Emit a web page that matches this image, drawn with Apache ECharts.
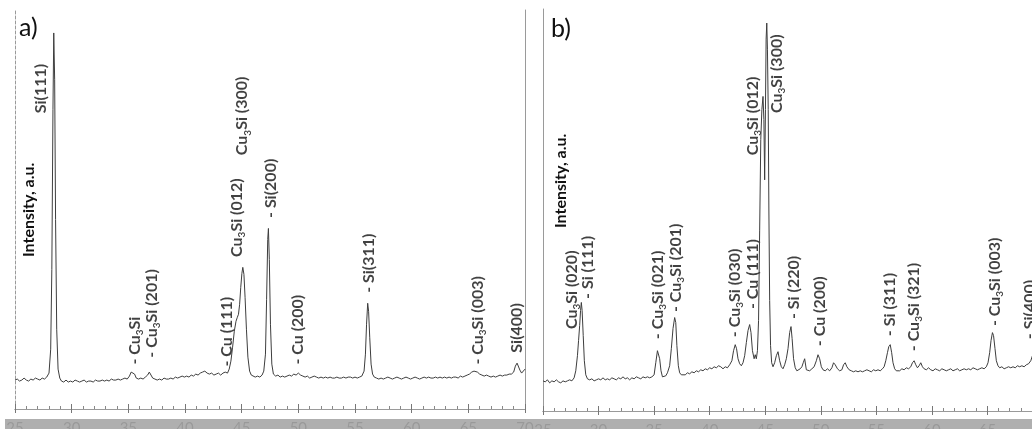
<!DOCTYPE html>
<html lang="en">
<head>
  <meta charset="UTF-8">
  <script src="https://cdn.jsdelivr.net/npm/echarts/dist/echarts.min.js"></script>
  <style>
    html, body { margin: 0; padding: 0; background: #ffffff; overflow: hidden; }
    #main { width: 1032px; height: 429px; }
  </style>
</head>
<body>
  <div id="main"></div>
  <script>
    // 2-theta axis (degrees)
    var xMin = 25, xMax = 70, xStep = 5;
    var yMax = 400;

    // panel a) pattern: [2theta, intensity a.u.]
    var patternA = [
      [25.0,29],[25.2,30],[25.4,28],[25.6,29],[25.8,31],[26.0,29],[26.2,28],[26.4,30],[26.6,29],[26.8,31],
      [27.0,30],[27.2,29],[27.4,31],[27.6,30],[27.8,32],[28.0,36],[28.15,60],[28.25,140],[28.35,300],[28.42,377],
      [28.5,330],[28.58,190],[28.68,80],[28.8,40],[28.95,31],[29.1,28],[29.3,27],[29.5,29],[29.7,27],[29.9,28],
      [30.1,27],[30.3,29],[30.5,28],[30.7,27],[30.9,28],[31.1,29],[31.3,27],[31.5,28],[31.7,28],[31.9,27],
      [32.1,29],[32.3,28],[32.5,28],[32.7,29],[32.9,28],[33.1,29],[33.3,28],[33.5,30],[33.7,29],[33.9,29],
      [34.1,30],[34.3,29],[34.5,30],[34.7,31],[34.9,30],[35.1,33],[35.25,37],[35.4,39],[35.55,35],[35.7,31],
      [35.9,30],[36.1,31],[36.3,30],[36.5,32],[36.7,34],[36.85,37],[37.0,35],[37.15,31],[37.35,30],[37.55,29],
      [37.75,30],[37.95,29],[38.15,31],[38.35,30],[38.55,30],[38.75,31],[38.95,30],[39.15,32],[39.35,31],[39.55,32],
      [39.75,33],[39.95,32],[40.15,33],[40.35,32],[40.55,34],[40.75,33],[40.95,35],[41.15,34],[41.35,36],[41.55,37],
      [41.75,38],[41.95,36],[42.15,35],[42.35,36],[42.55,34],[42.75,35],[42.95,36],[43.15,34],[43.35,36],[43.55,37],
      [43.75,36],[43.9,40],[44.05,48],[44.2,62],[44.35,78],[44.5,88],[44.62,92],[44.72,95],[44.82,105],[44.92,122],
      [45.02,136],[45.1,142],[45.2,135],[45.3,112],[45.42,80],[45.55,52],[45.7,38],[45.85,34],[46.0,33],[46.2,32],
      [46.4,33],[46.6,32],[46.8,34],[46.95,38],[47.1,55],[47.2,110],[47.3,170],[47.36,181],[47.44,150],[47.54,85],
      [47.66,45],[47.8,35],[48.0,33],[48.2,34],[48.4,32],[48.6,33],[48.8,32],[49.0,33],[49.2,34],[49.4,33],
      [49.6,35],[49.8,34],[50.0,36],[50.2,34],[50.4,33],[50.6,32],[50.8,33],[51.0,31],[51.2,32],[51.4,33],
      [51.6,32],[51.8,31],[52.0,32],[52.2,31],[52.4,32],[52.6,31],[52.8,32],[53.0,31],[53.2,31],[53.4,32],
      [53.6,31],[53.8,31],[54.0,32],[54.2,31],[54.4,32],[54.6,32],[54.8,31],[55.0,32],[55.2,31],[55.4,32],
      [55.6,33],[55.8,38],[55.92,55],[56.02,85],[56.12,106],[56.2,98],[56.3,72],[56.42,45],[56.55,35],[56.7,32],
      [56.9,31],[57.1,30],[57.3,31],[57.5,30],[57.7,31],[57.9,32],[58.1,31],[58.3,30],[58.5,31],[58.7,32],
      [58.9,31],[59.1,30],[59.3,31],[59.5,32],[59.7,31],[59.9,30],[60.1,31],[60.3,32],[60.5,31],[60.7,30],
      [60.9,31],[61.1,32],[61.3,31],[61.5,32],[61.7,31],[61.9,31],[62.1,32],[62.3,31],[62.5,32],[62.7,31],
      [62.9,32],[63.1,31],[63.3,32],[63.5,31],[63.7,32],[63.9,32],[64.1,31],[64.3,33],[64.5,32],[64.7,33],
      [64.9,34],[65.1,35],[65.3,37],[65.5,38],[65.65,39],[65.8,37],[66.0,35],[66.2,34],[66.4,33],[66.6,34],
      [66.8,33],[67.0,32],[67.2,33],[67.4,32],[67.6,33],[67.8,34],[68.0,33],[68.2,34],[68.4,34],[68.6,35],
      [68.8,35],[69.0,37],[69.15,43],[69.3,46],[69.42,44],[69.55,39],[69.7,36],[69.85,37],[70.0,40]
    ];

    // panel b) pattern
    var patternB = [
      [25.0,30],[25.2,29],[25.4,31],[25.6,28],[25.8,30],[26.0,29],[26.2,31],[26.4,29],[26.6,28],[26.8,30],
      [27.0,29],[27.2,30],[27.4,31],[27.6,30],[27.8,33],[27.95,40],[28.1,55],[28.2,70],[28.3,85],[28.38,100],
      [28.45,108],[28.52,100],[28.62,75],[28.72,50],[28.85,36],[29.0,32],[29.2,31],[29.4,32],[29.6,30],[29.8,31],
      [30.0,32],[30.2,31],[30.4,33],[30.6,31],[30.8,32],[31.0,31],[31.2,33],[31.4,32],[31.6,31],[31.8,33],
      [32.0,32],[32.2,34],[32.4,32],[32.6,33],[32.8,31],[33.0,33],[33.2,32],[33.4,34],[33.6,33],[33.8,32],
      [34.0,34],[34.2,33],[34.4,34],[34.6,33],[34.8,34],[35.0,36],[35.15,48],[35.3,60],[35.4,61],[35.5,52],
      [35.62,40],[35.75,34],[35.9,33],[36.05,35],[36.2,38],[36.4,45],[36.55,62],[36.7,82],[36.85,93],[36.95,88],
      [37.05,65],[37.18,45],[37.3,38],[37.45,36],[37.6,37],[37.8,36],[38.0,38],[38.2,37],[38.4,39],[38.6,38],
      [38.8,40],[39.0,39],[39.2,41],[39.4,40],[39.6,42],[39.8,41],[40.0,43],[40.2,42],[40.4,44],[40.6,43],
      [40.8,45],[41.0,44],[41.2,42],[41.4,44],[41.6,43],[41.8,46],[42.0,50],[42.15,60],[42.3,66],[42.42,62],
      [42.55,52],[42.7,47],[42.85,45],[43.0,48],[43.15,55],[43.3,68],[43.45,80],[43.6,86],[43.72,78],[43.85,60],
      [44.0,52],[44.1,56],[44.2,52],[44.3,60],[44.4,90],[44.5,180],[44.6,270],[44.7,300],[44.8,313],[44.88,290],
      [44.95,230],[45.02,300],[45.08,370],[45.14,386],[45.2,360],[45.27,300],[45.33,200],[45.4,110],[45.48,65],[45.58,48],
      [45.7,44],[45.85,48],[46.0,55],[46.15,59],[46.3,50],[46.45,44],[46.6,42],[46.75,46],[46.9,52],[47.05,62],
      [47.2,78],[47.32,84],[47.42,72],[47.55,52],[47.7,43],[47.85,40],[48.0,41],[48.15,42],[48.3,44],[48.42,48],
      [48.55,52],[48.7,41],[48.85,41],[49.0,40],[49.2,42],[49.4,44],[49.6,50],[49.75,56],[49.9,52],[50.05,44],
      [50.2,41],[50.4,40],[50.6,42],[50.8,40],[51.0,43],[51.15,48],[51.3,46],[51.5,42],[51.7,40],[51.9,41],
      [52.05,46],[52.2,48],[52.35,44],[52.55,41],[52.75,40],[52.95,39],[53.15,40],[53.35,39],[53.55,40],[53.75,39],
      [53.95,40],[54.15,41],[54.35,40],[54.55,39],[54.75,41],[54.95,40],[55.15,41],[55.35,40],[55.55,42],[55.7,44],
      [55.85,50],[56.0,58],[56.12,64],[56.25,66],[56.38,58],[56.5,48],[56.65,42],[56.8,40],[56.95,41],[57.1,40],
      [57.3,42],[57.5,41],[57.7,43],[57.9,42],[58.1,44],[58.25,48],[58.4,50],[58.55,46],[58.7,43],[58.85,45],
      [59.0,48],[59.15,44],[59.3,42],[59.5,41],[59.7,43],[59.9,41],[60.1,40],[60.3,42],[60.5,41],[60.7,40],
      [60.9,42],[61.1,41],[61.3,40],[61.5,41],[61.7,42],[61.9,40],[62.1,41],[62.3,42],[62.5,40],[62.7,41],
      [62.9,42],[63.1,41],[63.3,42],[63.5,41],[63.7,43],[63.9,42],[64.1,41],[64.3,42],[64.5,43],[64.7,42],
      [64.9,44],[65.05,48],[65.2,58],[65.32,70],[65.45,78],[65.55,75],[65.68,62],[65.8,50],[65.95,45],[66.1,43],
      [66.3,44],[66.5,42],[66.7,43],[66.9,44],[67.1,43],[67.3,44],[67.5,43],[67.7,45],[67.9,44],[68.1,45],
      [68.3,44],[68.5,46],[68.7,47],[68.9,50],[69.05,55],[69.2,58],[69.35,52],[69.5,47],[69.7,45],[69.9,44],[70.0,44]
    ];

    // peak labels: [text, 2theta, intensity at the start of the text]
    var labelsA = [
      ['Si(111)', 27.3, 296],
      ['- Cu3Si', 35.6, 44],
      ['- Cu3Si (201)', 37.1, 51],
      ['- Cu (111)', 43.7, 42],
      ['Cu3Si (012)', 44.6, 152],
      ['Cu3Si (300)', 45.1, 254],
      ['- Si(200)', 47.6, 191],
      ['- Cu (200)', 50.0, 44],
      ['- Si(311)', 56.3, 116],
      ['- Cu3Si (003)', 65.9, 44],
      ['Si(400)', 69.3, 56]
    ];
    var labelsB = [
      ['Cu3Si (020)', 27.6, 81],
      ['- Si (111)', 29.1, 111],
      ['- Cu3Si (021)', 35.4, 71],
      ['- Cu3Si (201)', 37.0, 98],
      ['- Cu3Si (030)', 42.3, 73],
      ['- Cu (111)', 43.9, 101],
      ['Cu3Si (012)', 43.9, 254],
      ['Cu3Si (300)', 46.1, 296],
      ['- Si (220)', 47.6, 91],
      ['- Cu (200)', 50.0, 64],
      ['- Si (311)', 56.3, 74],
      ['- Cu3Si (321)', 58.4, 59],
      ['- Cu3Si (003)', 65.7, 84],
      ['- Si(400)', 68.9, 71]
    ];

    var font = 'Lato, "Noto Sans", sans-serif';
    var frameColor = '#9a9a9a';

    function bottomAxis(gi) {
      return {
        type: 'value', gridIndex: gi, min: xMin, max: xMax, interval: xStep,
        axisLine: { lineStyle: { color: frameColor, width: 1 } },
        axisTick: { inside: true, length: 5, lineStyle: { color: '#777' } },
        minorTick: { show: true, splitNumber: 5, length: 3, lineStyle: { color: '#888' } },
        splitLine: { show: false },
        axisLabel: { margin: 12, fontSize: 15, color: '#222', fontFamily: font }
      };
    }
    function topAxis(gi) {
      return {
        type: 'value', gridIndex: gi, position: 'top', min: xMin, max: xMax, interval: xStep,
        axisLine: { lineStyle: { color: frameColor, width: 1 } },
        axisTick: { inside: true, length: 4, lineStyle: { color: '#777' } },
        axisLabel: { show: false }, splitLine: { show: false }
      };
    }
    function sideAxis(gi, pos, dashed) {
      return {
        type: 'value', gridIndex: gi, position: pos, min: 0, max: yMax,
        axisLine: { show: true, lineStyle: { color: frameColor, width: 1, type: dashed ? [3, 2] : 'solid' } },
        axisTick: { show: false }, axisLabel: { show: false }, splitLine: { show: false }
      };
    }

    // wrap every piece in rich tokens so the weight applies to all of it
    function richName(name) {
      var parts = name.split('Cu3Si');
      return parts.map(function (p) { return p ? '{n|' + p + '}' : ''; }).join('{n|Cu}{s|3}{n|Si}');
    }

    function labelSeries(list, idx) {
      return {
        type: 'scatter', xAxisIndex: idx, yAxisIndex: idx, silent: true,
        symbolSize: 1, itemStyle: { color: 'rgba(0,0,0,0)' },
        data: list.map(function (d) { return { name: d[0], value: [d[1], d[2]] }; }),
        label: {
          show: true, position: [0, 0], rotate: 90, align: 'left', verticalAlign: 'middle',
          lineHeight: 20,
          formatter: function (p) { return richName(p.name); },
          rich: {
            n: { fontFamily: font, fontSize: 16, fontWeight: 'bold', color: '#111', lineHeight: 20 },
            s: { fontFamily: font, fontSize: 10, fontWeight: 'bold', color: '#111', lineHeight: 20, verticalAlign: 'bottom' }
          }
        }
      };
    }

    function lineSeries(data, idx) {
      return {
        type: 'line', xAxisIndex: idx, yAxisIndex: idx, data: data,
        showSymbol: false, symbol: 'none', silent: true,
        lineStyle: { color: '#3d3d3d', width: 1 }
      };
    }

    function sideText(text, x, y, size, rot, weight) {
      return {
        type: 'text', x: x, y: y, rotation: rot || 0, z: 50,
        style: { text: text, fontFamily: font, fontSize: size, fontWeight: weight || 'normal', fill: '#111', align: 'left', verticalAlign: 'middle' }
      };
    }

    var chart = echarts.init(document.getElementById('main'));
    chart.setOption({
      animation: false,
      // panel b runs past the right edge of the picture, so keep ECharts from squeezing the grids
      grid: [
        { left: 15, top: 10, width: 510, height: 399, outerBoundsMode: 'none', containLabel: false },
        { left: 543, top: 9, width: 500, height: 402, outerBoundsMode: 'none', containLabel: false }
      ],
      xAxis: [bottomAxis(0), bottomAxis(1), topAxis(0), topAxis(1)],
      yAxis: [sideAxis(0, 'left', true), sideAxis(1, 'left', false), sideAxis(0, 'right', false), sideAxis(1, 'right', false)],
      series: [
        lineSeries(patternA, 0),
        lineSeries(patternB, 1),
        labelSeries(labelsA, 0),
        labelSeries(labelsB, 1)
      ],
      graphic: [
        sideText('a)', 19, 28, 25),
        sideText('b)', 551, 29, 25),
        sideText('Intensity, a.u.', 29, 257, 16, Math.PI / 2, 'bold'),
        sideText('Intensity, a.u.', 561, 228, 16, Math.PI / 2, 'bold'),
        { type: 'rect', zlevel: 1, z: 100, shape: { x: 5, y: 419, width: 1030, height: 10 }, style: { fill: '#a6a6a6', opacity: 0.9 } }
      ]
    });
  </script>
</body>
</html>
